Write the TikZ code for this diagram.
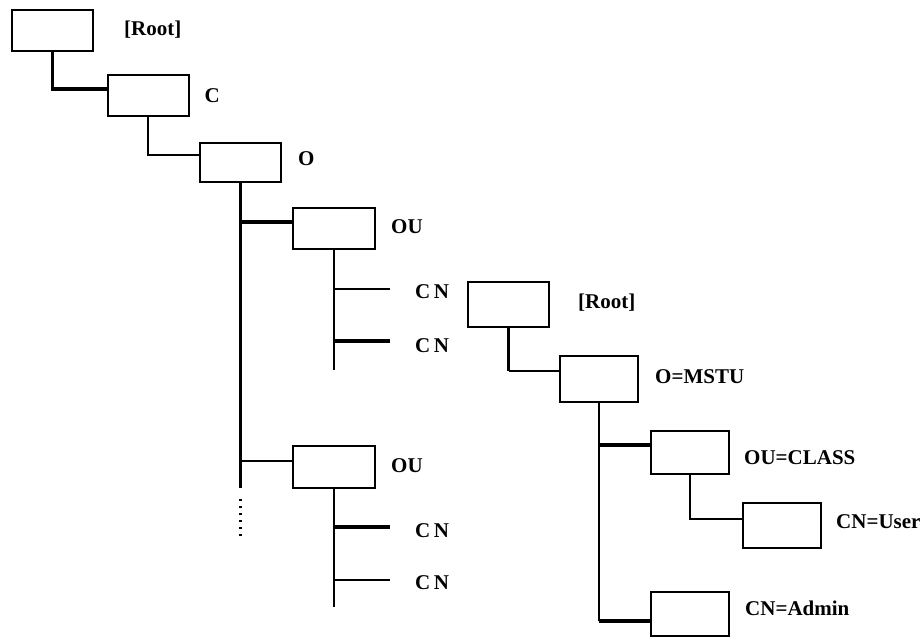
\documentclass[tikz,border=0pt]{standalone}
\usepackage{fontspec}
\setmainfont{Liberation Serif}
\usetikzlibrary{positioning}

\begin{document}
\begin{tikzpicture}[
  x=1pt, y=-1pt,
  dnbox/.style={
    draw, line width=2pt, minimum width=81pt, minimum height=41pt,
    inner sep=0pt
  },
  rbox/.style={dnbox, minimum width=78pt, minimum height=45pt},
  lbl/.style={font=\fontsize{21}{24}\selectfont\bfseries, inner sep=0pt},
  thinline/.style={line width=2pt},
  thickline/.style={line width=3.8pt}
]
  \useasboundingbox (0,0) rectangle (924,637);

  % left tree
  \node[dnbox] (root) at (52.5,30) {};
  \node[dnbox] (c) at (148,95.5) {};
  \node[dnbox, minimum height=39pt] (o) at (240.5,162.5) {};
  \node[dnbox, minimum width=82pt] (ou1) at (334,228) {};
  \node[dnbox, minimum width=82pt, minimum height=42pt] (ou2) at (334,467) {};

  \node[lbl, right=30pt of root] (rootlbl) {[Root]};
  \node[lbl, right=15pt of c] (clbl) {C};
  \node[lbl, right=16pt of o, yshift=4pt] (olbl) {O};
  \node[lbl, right=15pt of ou1, yshift=1pt] (ou1lbl) {OU};
  \node[lbl, right=15pt of ou2, yshift=1pt] (ou2lbl) {OU};

  \draw[thickline] (root.south) |- ([yshift=6.5pt]c.west);
  \draw[thinline] (c.south) |- ([yshift=7.5pt]o.west);

  \coordinate (trunkend) at (240.5,488);
  \coordinate (dotsA) at (240.5,499);
  \coordinate (dotsB) at (240.5,537);
  \draw[thickline] (o.south) -- (trunkend);
  \draw[line width=2.2pt, dash pattern=on 2pt off 5pt] (dotsA) -- (dotsB);
  \draw[thickline] (o.south) |- ([yshift=6pt]ou1.west);
  \draw[thinline] (o.south) |- ([yshift=6pt]ou2.west);

  % leaves under the two OU entries
  \coordinate (ou1end) at (334,370);
  \coordinate (cnA) at (390,289);
  \coordinate (cnB) at (390,341);
  \draw[thinline] (ou1.south) -- (ou1end);
  \draw[thinline] (ou1.south |- cnA) -- (cnA);
  \draw[thickline] (ou1.south |- cnB) -- (cnB);
  \node[lbl, right=25pt of cnA, yshift=-3pt] (cna) {C\,N};
  \node[lbl, right=25pt of cnB, yshift=-5pt] (cnb) {C\,N};

  \coordinate (ou2end) at (334,607);
  \coordinate (cnC) at (390,527);
  \coordinate (cnD) at (390,580);
  \draw[thinline] (ou2.south) -- (ou2end);
  \draw[thickline] (ou2.south |- cnC) -- (cnC);
  \draw[thinline] (ou2.south |- cnD) -- (cnD);
  \node[lbl, right=25pt of cnC, yshift=-4pt] (cnc) {C\,N};
  \node[lbl, right=25pt of cnD, yshift=-3pt] (cnd) {C\,N};

  % right tree
  \node[rbox, minimum width=81pt] (root2) at (508.5,304.5) {};
  \node[rbox, minimum height=46pt] (mstu) at (599,379) {};
  \node[rbox, minimum height=43pt] (class) at (690,452.5) {};
  \node[rbox] (user) at (782,525.5) {};
  \node[rbox, minimum height=44pt] (admin) at (690,614) {};

  \node[lbl, right=28pt of root2, yshift=2pt] (root2lbl) {[Root]};
  \node[lbl, right=16pt of mstu, yshift=2pt] (mstulbl) {O=MSTU};
  \node[lbl, right=14pt of class, yshift=-5pt] (classlbl) {OU=CLASS};
  \node[lbl, right=14pt of user, yshift=4pt] (userlbl) {CN=User};
  \node[lbl, right=15pt of admin, yshift=6pt] (adminlbl) {CN=Admin};

  \coordinate (root2bend) at (508.5,371);
  \coordinate (classlink) at (599,445);
  \coordinate (adminlink) at (599,621);
  \draw[thickline] (root2.south) -- (root2bend);
  \draw[thinline] (root2bend) |- ([yshift=8pt]mstu.west);
  \draw[thinline] (mstu.south) -- (adminlink);
  \draw[thickline] (classlink) -- (classlink -| class.west);
  \draw[thickline] (adminlink) -- (adminlink -| admin.west);
  \draw[thinline] (class.south) |- ([yshift=6.5pt]user.west);
\end{tikzpicture}
\end{document}
